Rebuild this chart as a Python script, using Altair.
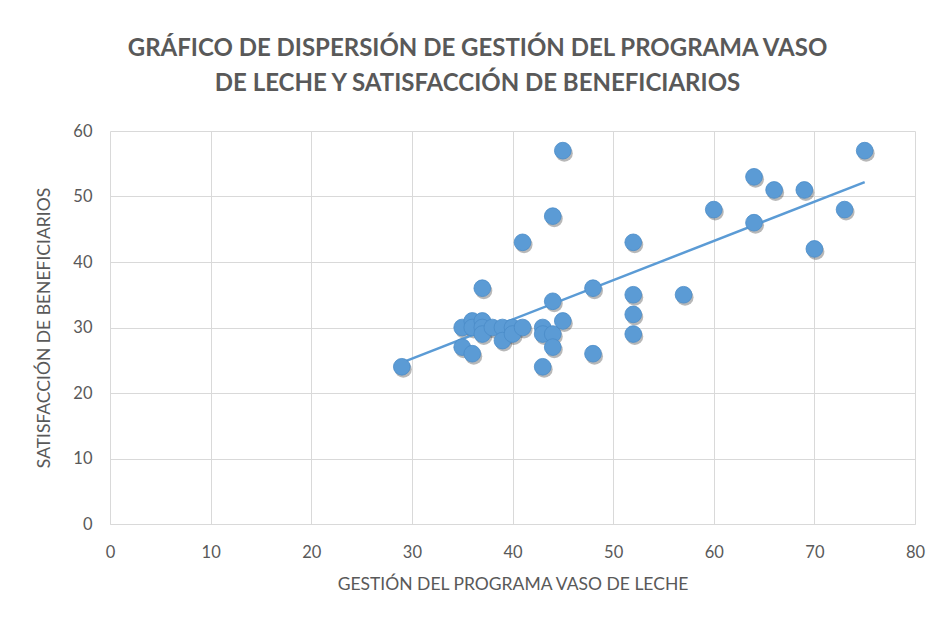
import altair as alt
import pandas as pd

gestion = [29, 35, 35, 36, 36, 36, 37, 37, 37, 37, 38, 39, 39, 40, 40, 41, 41,
           43, 43, 43, 44, 44, 44, 44, 45, 45, 48, 48, 52, 52, 52, 52, 57, 60,
           64, 64, 66, 69, 70, 73, 75]
satisfaccion = [24, 30, 27, 31, 30, 26, 36, 31, 30, 29, 30, 30, 28, 30, 29, 30, 43,
                30, 29, 24, 47, 34, 29, 27, 57, 31, 36, 26, 43, 35, 32, 29, 35, 48,
                53, 46, 51, 51, 42, 48, 57]

x_ticks = [0, 10, 20, 30, 40, 50, 60, 70, 80]
y_ticks = [0, 10, 20, 30, 40, 50, 60]

title_lines = ["GRÁFICO DE DISPERSIÓN DE GESTIÓN DEL PROGRAMA VASO",
               "DE LECHE Y SATISFACCIÓN DE BENEFICIARIOS"]
x_title = "GESTIÓN DEL PROGRAMA VASO DE LECHE"
y_title = "SATISFACCIÓN DE BENEFICIARIOS"

df = pd.DataFrame({"x": gestion, "y": satisfaccion})

BLUE = "#5B9BD5"
GRAY = "#595959"
GRID = "#D9D9D9"

xs = alt.X("x:Q", scale=alt.Scale(domain=[0, 80], nice=False),
           axis=alt.Axis(values=x_ticks, title=x_title, grid=True, gridColor=GRID,
                         domain=True, domainColor=GRID, ticks=False, labelFlush=False,
                         labelPadding=20, titlePadding=15))
ys = alt.Y("y:Q", scale=alt.Scale(domain=[0, 60], nice=False),
           axis=alt.Axis(values=y_ticks, title=y_title, grid=True, gridColor=GRID,
                         domain=False, ticks=False, labelFlush=False,
                         labelPadding=18, titlePadding=19))

base = alt.Chart(df)

shadow = base.mark_circle(size=290, color="#000000", opacity=0.28, xOffset=1.5, yOffset=2.5).encode(
    x=xs, y=ys)
points = base.mark_circle(size=280, color=BLUE, opacity=1,
                          stroke="#4A8BC8", strokeWidth=0.8).encode(x=xs, y=ys)
trend = base.transform_regression("x", "y").mark_line(color=BLUE, strokeWidth=2.5).encode(
    x="x:Q", y="y:Q")

chart = alt.layer(shadow, trend, points).properties(
    width=805, height=393,
    autosize=alt.AutoSizeParams(type="none"),
    padding={"left": 102, "top": 123, "right": 16, "bottom": 80},
    background="white",
    title=alt.TitleParams(text=title_lines, font="Lato", fontSize=24, fontWeight="bold",
                          color=GRAY, lineHeight=35, dx=-35, offset=27, anchor="middle"),
).configure_view(stroke=None).configure_axis(
    labelFont="Lato", labelFontSize=16.5, labelColor=GRAY,
    titleFont="Lato", titleFontSize=17.5, titleFontWeight="normal", titleColor=GRAY,
)

chart.save("out.html", embed_options={"renderer": "svg", "actions": False})
